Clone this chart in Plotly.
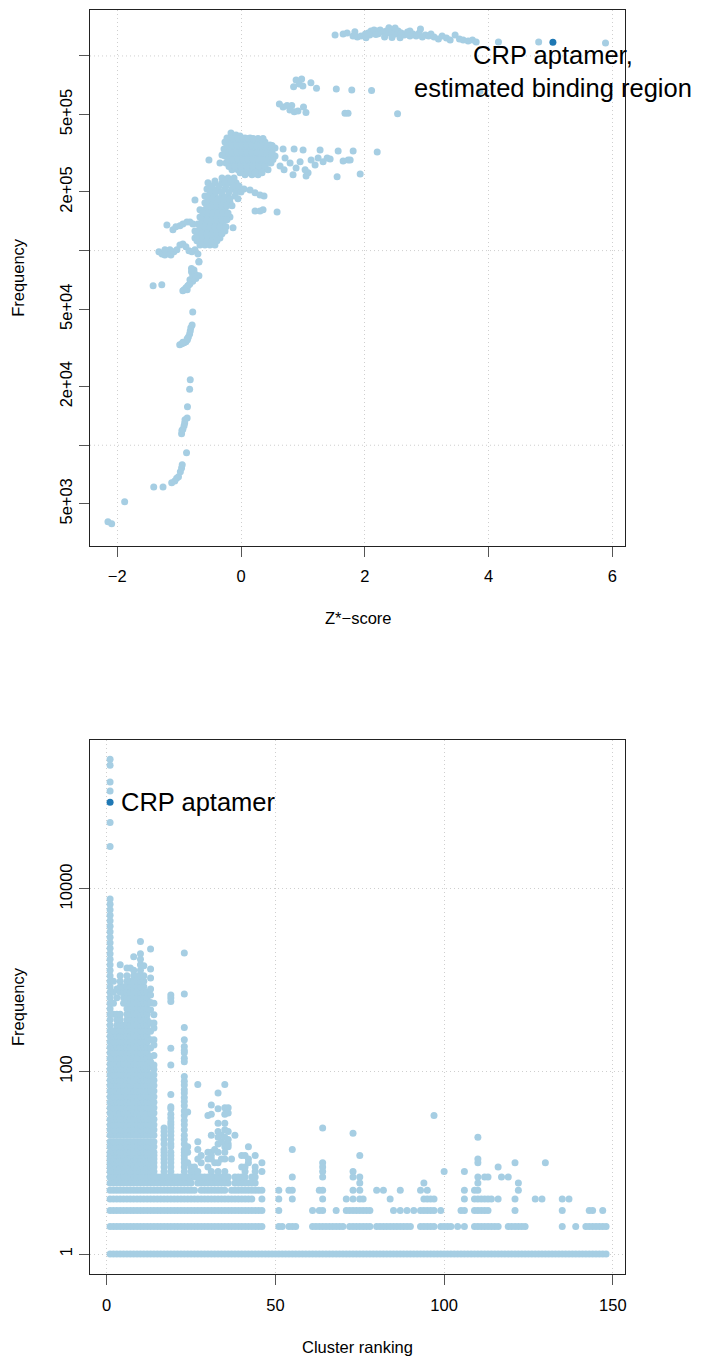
import math
import plotly.graph_objects as go

# ---------------- top panel: Z*-score vs frequency ----------------
top_z = [
    # lower tail
    -2.15, -2.09, -1.88, -1.41, -1.26, -1.12, -1.07, -1.04, -1.01, -0.98, -0.96, -0.95, -0.88,
    -0.96, -0.955, -0.94, -0.92, -0.91, -0.905, -0.87, -0.865, -0.83, -0.82,
    # ~3e4-5e4
    -0.99, -0.955, -0.92, -0.89, -0.866, -0.85, -0.83, -0.82, -0.81, -0.79, -0.78, -0.94, -0.87,
    # ~6e4-9e4
    -0.68, -0.825, -0.80, -0.78, -0.745, -0.71, -0.68, -0.73, -0.78, -0.825, -0.86, -0.89, -0.92,
    -0.94, -0.87, -0.84, -1.42, -1.28, -0.76, -0.80,
    # ~1e5 spur
    -1.327, -1.278, -1.23, -1.181, -1.133, -1.084, -1.036, -1.149, -1.23, -0.987, -0.939, -0.89,
    -0.841, -0.793, -0.744, -0.696, -0.68,
    -1.197, -1.10, -1.052, -0.987, -0.939, -0.874, -0.825, -0.777,
    # main blob 1e5-2.4e5
    -0.663, -0.583, -0.502, -0.421,
    -0.744, -0.663, -0.583, -0.502, -0.421, -0.34,
    -0.744, -0.663, -0.583, -0.502, -0.421, -0.34, -0.259,
    -0.696, -0.615, -0.534, -0.453, -0.372, -0.291,
    -0.663, -0.583, -0.502, -0.421, -0.34, -0.259, -0.178,
    -0.663, -0.583, -0.502, -0.421, -0.34, -0.259,
    -0.583, -0.502, -0.421, -0.34, -0.259, -0.178,
    -0.583, -0.502, -0.421, -0.307, -0.21, -0.097,
    -0.55, -0.469, -0.372, -0.259, -0.146, -0.049,
    -0.534, -0.421, -0.307, -0.178, -0.081,
    -0.307, -0.21, -0.113,
    -0.712, -0.631, -0.55, -0.469, -0.388,
    -0.712, -0.631, -0.55, -0.469, -0.388, -0.307,
    -0.663, -0.583, -0.502, -0.421, -0.34,
    -0.631, -0.55, -0.469, -0.388, -0.307, -0.227,
    -0.615, -0.534, -0.453, -0.372, -0.291, -0.21,
    -0.55, -0.469, -0.388, -0.307, -0.227, -0.146,
    -0.534, -0.453, -0.372, -0.275, -0.178, -0.049,
    -0.502, -0.405, -0.307, -0.194, -0.081, 0.0,
    -0.469, -0.356, -0.243, -0.129, -0.032,
    -0.421, -0.259, -0.162,
    0.049, 0.146, 0.227, 0.307, 0.372, 0.227, 0.307, 0.356, 0.583, -0.129, -0.243, -0.744,
    # upper blob 2.4e5-4e5
    -0.162, -0.081, -0.227, -0.016, 0.065, 0.146, 0.227, 0.307, 0.388, 0.469, 0.55,
    -0.259, -0.178, -0.097, -0.016, 0.065, 0.146, 0.227, 0.307,
    -0.275, -0.194, -0.113, -0.032, 0.049, 0.129, 0.21, 0.291, 0.372, 0.453,
    -0.259, -0.178, -0.097, -0.016, 0.065, 0.146, 0.227, 0.307, 0.388, 0.469, 0.55,
    -0.243, -0.162, -0.081, 0.0, 0.081, 0.162, 0.243, 0.324, 0.405, 0.485,
    -0.146, -0.049, 0.049, 0.146, 0.243, 0.34, 0.437,
    0.065, 0.178, 0.275,
    -0.21, -0.129, -0.049, 0.032, 0.113, 0.194, 0.275, 0.356,
    -0.227, -0.146, -0.065, 0.016, 0.097, 0.178, 0.259, 0.34, 0.421, 0.502,
    -0.227, -0.146, -0.065, 0.016, 0.097, 0.178, 0.259, 0.34, 0.421, 0.502,
    -0.21, -0.129, -0.049, 0.032, 0.113, 0.194, 0.275, 0.356, 0.437, 0.518,
    -0.194, -0.097, 0.0, 0.097, 0.194, 0.291, 0.388,
    -0.016, 0.113, 0.227, 0.34,
    0.68, 0.858, 1.003, 1.278, 1.57, 1.812, 2.201, 0.793, 0.955, 1.133, 1.327, 1.44, 1.731, 1.764,
    0.841, 1.084, 1.553, 1.926, 0.712, 0.631, 0.696, 0.89, 1.036, 1.197, 1.246, 1.392, 1.65,
    1.052, -0.518, -0.34, -0.307,
    # 5e5-7.5e5
    0.62, 0.68, 0.744, 0.82, 0.79, 0.86, 0.92, 1.01, 1.05, 0.85, 0.89, 0.98, 0.94, 1.0, 1.13,
    1.22, 1.54, 1.79, 2.11, 3.86, 1.68, 1.73, 2.53,
    # top band ~1.2e6-1.4e6
    1.52, 1.65, 1.715, 1.81, 1.88, 1.94, 2.01, 2.055, 2.10, 2.15, 2.20, 2.25, 2.30, 2.35, 2.39,
    2.44, 2.49, 2.54, 2.59, 2.64, 2.69, 2.73, 2.78, 2.83, 2.88, 2.93, 2.98, 3.03, 3.07, 3.12,
    3.19, 3.25, 3.32, 3.38, 3.46, 3.53, 3.59, 3.67, 3.74, 3.80, 4.16, 4.81, 5.89,
    2.08, 2.32, 2.49, 2.22, 2.44, 2.57, 2.73, 2.90, 2.39, 2.18, 2.02, 1.84,
]
top_freq = [
    4040, 3950, 5120, 6110, 6110, 6410, 6550, 6760, 6880, 7300, 7650, 7930, 9140,
    11450, 11900, 12100, 12600, 13000, 13500, 13800, 15750, 19400, 21700,
    32800, 33200, 33600, 34000, 34800, 36000, 37300, 38600, 40100, 41500, 48400, 33800, 35200,
    87900, 70800, 77800, 74300, 75900, 74300, 74300, 71800, 69500, 67500, 65900, 64400, 62900,
    62200, 62900, 66700, 65900, 66700, 79600, 81000,
    98500, 96100, 95000, 97300, 95000, 98500, 100900, 100900, 100900, 106900, 108100, 104500,
    99700, 98500, 100900, 96100, 87500,
    135500, 128000, 132400, 134000, 137100, 140300, 140300, 137100,
    106900, 106900, 106900, 106900,
    116100, 116100, 116100, 116100, 116100, 116100,
    126200, 126200, 126200, 126200, 126200, 126200, 126200,
    137100, 137100, 137100, 137100, 137100, 137100,
    149000, 149000, 149000, 149000, 149000, 149000, 149000,
    162000, 162000, 162000, 162000, 162000, 162000,
    176000, 176000, 176000, 176000, 176000, 176000,
    191000, 191000, 191000, 191000, 191000, 191000,
    207500, 207500, 207500, 207500, 207500, 207500,
    223000, 223000, 223000, 223000, 223000,
    236000, 236000, 236000,
    112200, 112200, 112200, 112200, 112200,
    121900, 121900, 121900, 121900, 121900, 121900,
    132400, 132400, 132400, 132400, 132400,
    144000, 144000, 144000, 144000, 144000, 144000,
    156000, 156000, 156000, 156000, 156000, 156000,
    170000, 170000, 170000, 170000, 170000, 170000,
    184600, 184600, 184600, 184600, 184600, 184600,
    200000, 200000, 200000, 200000, 200000, 200000,
    215000, 215000, 215000, 215000, 215000,
    228000, 228000, 228000,
    207500, 205000, 198000, 193000, 191000, 159800, 159800, 162000, 158000, 130900, 132400, 182000,
    402000, 393000, 379000, 388000, 379000, 379000, 370000, 370000, 361000, 349000, 337000,
    361000, 361000, 361000, 361000, 361000, 361000, 361000, 361000,
    333000, 333000, 333000, 333000, 333000, 333000, 333000, 333000, 333000, 333000,
    306000, 306000, 306000, 306000, 306000, 306000, 306000, 306000, 306000, 306000, 306000,
    282000, 282000, 282000, 282000, 282000, 282000, 282000, 282000, 282000, 282000,
    260000, 260000, 260000, 260000, 260000, 260000, 260000,
    245000, 245000, 245000,
    377000, 377000, 377000, 377000, 377000, 377000, 377000, 377000,
    347000, 347000, 347000, 347000, 347000, 347000, 347000, 347000, 347000, 347000,
    319000, 319000, 319000, 319000, 319000, 319000, 319000, 319000, 319000, 319000,
    294000, 294000, 294000, 294000, 294000, 294000, 294000, 294000, 294000, 294000,
    270000, 270000, 270000, 270000, 270000, 270000, 270000,
    251000, 251000, 251000, 251000,
    333000, 333000, 329000, 329000, 325000, 325000, 321000, 282000, 285700, 292000, 285700,
    295700, 292000, 292000,
    245000, 251000, 239300, 247700, 299200, 272000, 260000, 266000, 260000, 275600, 299200,
    299200, 289000,
    242000, 292000, 282000, 310000,
    566000, 546000, 557000, 557000, 528000, 516000, 522000, 546000, 512000, 695000, 753000,
    761000, 718000, 701000, 729000,
    682000, 676000, 669000, 664000, 657000, 507000, 507000, 504000,
    1282000, 1297000, 1313000, 1267000, 1252000, 1267000, 1297000, 1313000, 1344000, 1360000,
    1344000, 1360000, 1328000, 1344000, 1313000,
    1328000, 1297000, 1344000, 1313000, 1282000, 1328000, 1344000, 1297000, 1267000, 1313000,
    1252000, 1282000, 1267000, 1297000, 1252000,
    1222000, 1267000, 1237000, 1208000, 1282000, 1222000, 1208000, 1194000, 1208000, 1180000,
    1180000, 1180000, 1166000,
    1280000, 1250000, 1390000, 1300000, 1245000, 1240000, 1265000, 1375000, 1395000, 1290000,
    1240000, 1330000,
]
crp_top_z = [5.04]
crp_top_freq = [1176000]

# ---------------- bottom panel: cluster ranking vs frequency ----------------
rank_f1 = list(range(1, 149))
rank_f2 = (list(range(1, 47)) + [51, 52, 54, 55, 56] + list(range(61, 71)) + list(range(72, 79))
           + list(range(80, 91)) + [93, 94, 95, 96, 97, 99, 100, 101, 102, 104, 106]
           + list(range(109, 117)) + list(range(119, 125)) + [135, 139] + list(range(142, 149)))
rank_f3 = (list(range(1, 47)) + [51, 61, 63, 64, 68, 71] + list(range(72, 79))
           + [85, 87, 89, 91, 93, 94, 95, 96, 97, 99, 105, 106, 109, 110, 111, 112, 113, 121,
              135, 143, 144, 147])
rank_f4 = (list(range(1, 44)) + [46, 51, 55, 64, 71, 73, 75, 76, 84, 94, 95, 96, 97, 106,
                                 109, 110, 111, 112, 113, 114, 116, 121, 127, 129, 135, 137])
rank_f5 = ([r for r in range(1, 47) if r not in (27, 36)]
           + [51, 54, 55, 63, 64, 73, 75, 80, 82, 87, 93, 95, 106, 109, 110, 122])
rank_f6 = [r for r in range(1, 45) if r not in (26, 37)] + [75, 94, 110, 122]
rank_f7 = list(range(1, 37)) + [38, 39, 40, 41, 43, 44]

c01 = [7, 8, 9, 10, 11, 12, 13, 15, 17, 20, 23, 26, 30, 35, 40, 46, 53, 61, 70, 80, 92, 106, 121,
       139, 160, 184, 211, 243, 279, 320, 368, 423, 486, 558, 641, 737, 847, 973, 1118, 1285,
       1476, 1697, 1950, 2240, 2575, 2958, 3400, 3906, 4488, 5158, 5926, 6810, 7730,
       29100, 53400, 118600, 148000, 227000, 264000]
c02 = [7, 8, 9, 10, 11, 12, 13, 15, 17, 20, 23, 26, 30, 35, 40, 46, 53, 61, 70, 80, 92, 106, 121,
       139, 160, 184, 211, 243, 279, 423, 558, 737, 973]
c03 = [7, 8, 9, 10, 11, 12, 13, 15, 17, 20, 23, 26, 30, 35, 40, 46, 53, 61, 70, 80, 92, 106, 121,
       139, 160, 184, 211, 243, 279, 320, 368, 423, 641, 800]
c04 = [7, 8, 9, 10, 11, 12, 13, 15, 17, 20, 23, 26, 30, 35, 40, 46, 53, 61, 70, 80, 92, 106, 121,
       139, 160, 184, 211, 243, 279, 320, 368, 423, 737, 847, 973, 1118, 1475]
c05 = [7, 8, 9, 10, 11, 12, 13, 15, 17, 20, 23, 26, 30, 35, 40, 46, 53, 61, 70, 80, 92, 106, 121,
       139, 160, 184, 211, 243, 279, 320, 558, 641, 737, 847]
c06 = [7, 8, 9, 10, 11, 12, 13, 15, 17, 20, 23, 26, 30, 35, 40, 46, 53, 61, 70, 80, 92, 106, 121,
       139, 160, 184, 211, 243, 279, 320, 368, 423, 486, 558, 641, 737, 847, 973, 1118, 1360]
c07 = [7, 8, 9, 10, 11, 12, 13, 15, 17, 20, 23, 26, 30, 35, 40, 46, 53, 61, 70, 80, 92, 106, 121,
       139, 160, 184, 211, 243, 279, 320, 368, 423, 486, 558, 641, 737, 847, 973, 1360]
c08 = [7, 8, 9, 10, 11, 12, 13, 15, 17, 20, 23, 26, 30, 35, 40, 46, 53, 61, 70, 80, 92, 106, 121,
       139, 160, 184, 211, 243, 279, 320, 368, 423, 486, 558, 641, 737, 847, 973, 1118, 1285, 1805]
c09 = [7, 8, 9, 10, 11, 12, 13, 15, 17, 20, 23, 26, 30, 35, 40, 46, 53, 61, 70, 80, 92, 106, 121,
       139, 160, 184, 211, 243, 279, 320, 368, 423, 486, 558, 641, 737, 847, 973, 1118]
c10 = [7, 8, 9, 10, 11, 12, 13, 15, 17, 20, 23, 26, 30, 35, 40, 46, 53, 61, 70, 80, 92, 106, 121,
       139, 160, 184, 211, 243, 279, 320, 368, 423, 486, 558, 641, 737, 847, 973, 1118, 1285,
       1476, 1697, 1950, 2650]
c11 = [7, 8, 9, 10, 11, 12, 13, 15, 17, 20, 23, 26, 30, 35, 40, 46, 53, 61, 70, 80, 92, 106, 121,
       139, 160, 184, 211, 243, 279, 320, 368, 423, 486, 558, 641, 737, 847, 973, 1118, 1440]
c12 = [7, 8, 9, 10, 11, 12, 13, 15, 17, 20, 23, 26, 30, 35, 40, 46, 53, 61, 70, 80, 92, 106, 121,
       139, 160, 184, 211, 243, 279, 320, 368, 423, 486, 558, 641, 737]
c13 = [7, 8, 9, 10, 11, 12, 13, 15, 17, 20, 23, 26, 30, 35, 40, 46, 53, 61, 70, 80, 92,
       113, 128, 146, 181, 222, 275, 340, 475, 570, 690, 800, 1055, 1330, 2200]
c14 = [7, 8, 9, 10, 11, 12, 13, 15, 17, 20, 23, 26, 30, 35, 40, 46, 53, 61, 70, 80, 92, 106,
       118, 150, 195, 222, 300, 340, 418, 560]
dense_ranks = list(range(1, 15))
dense_cols = [c01, c02, c03, c04, c05, c06, c07, c08, c09, c10, c11, c12, c13, c14]

sparse_ranks = [17, 19, 23, 24, 25, 26, 27, 28, 30, 31, 32, 33, 34, 35, 36, 37, 38, 40, 41, 42,
                44, 46, 55, 64, 73, 75, 97, 100, 106, 110, 112, 113, 116, 117, 119, 121, 130]
sparse_cols = [
    [24, 22, 20, 18, 16, 14, 13, 12, 11, 10, 9, 8],
    [690, 640, 585, 180, 118, 56, 41, 39, 34, 31, 28, 26, 24, 22, 20, 18, 16, 15, 13, 12, 11, 10, 9, 8],
    [1980, 704, 303, 222, 188, 170, 160, 140, 128, 88, 78, 71, 63, 58, 52, 47, 42, 37, 33, 29,
     26, 23, 20, 18, 16, 14, 13, 12, 11, 10, 9, 8],
    [36, 15, 13, 10],
    [9, 8],
    [9, 8],
    [72, 17, 14, 11, 8],
    [12, 10],
    [33, 13, 11, 9],
    [43, 34, 20, 13, 12, 11, 8],
    [14, 10],
    [58, 39, 27, 22, 19, 16, 13, 10, 8],
    [20, 17, 11],
    [72, 40, 34, 27, 23, 19, 16, 15, 13, 11, 8],
    [40, 35, 22, 18, 16, 15],
    [11],
    [20],
    [12, 9],
    [12, 9, 8],
    [15, 11, 10],
    [12, 9, 8],
    [10, 8],
    [14, 7],
    [24, 10, 9, 8, 7],
    [21, 8, 7],
    [12, 7],
    [33],
    [8],
    [8],
    [19, 11, 10, 7],
    [7],
    [7],
    [9],
    [7],
    [7],
    [10],
    [10],
]
crp_bot_rank = [1]
crp_bot_freq = [89300]

# ---------- assemble bottom points ----------
bx, by = [], []
for ranks, f in [(rank_f1, 1), (rank_f2, 2), (rank_f3, 3), (rank_f4, 4), (rank_f5, 5),
                 (rank_f6, 6), (rank_f7, 7)]:
    bx += ranks
    by += [f] * len(ranks)
for r, col in zip(dense_ranks + sparse_ranks, dense_cols + sparse_cols):
    bx += [r] * len(col)
    by += col

LIGHT = "#a6cee3"
DARK = "#1f78b4"
FONT = "Liberation Sans, Arial, sans-serif"
MS = 7
GRID = "#cfcfcf"
GDASH = "1px,3px"

fig = go.Figure()
fig.add_trace(go.Scatter(x=top_z, y=top_freq, mode="markers", xaxis="x", yaxis="y",
                         marker=dict(color=LIGHT, size=MS, line=dict(width=0)), hoverinfo="skip"))
fig.add_trace(go.Scatter(x=crp_top_z, y=crp_top_freq, mode="markers", xaxis="x", yaxis="y",
                         marker=dict(color=DARK, size=MS, line=dict(width=0))))
fig.add_trace(go.Scatter(x=bx, y=by, mode="markers", xaxis="x2", yaxis="y2",
                         marker=dict(color=LIGHT, size=MS, line=dict(width=0)), hoverinfo="skip"))
fig.add_trace(go.Scatter(x=crp_bot_rank, y=crp_bot_freq, mode="markers", xaxis="x2", yaxis="y2",
                         marker=dict(color=DARK, size=MS, line=dict(width=0))))

axis_common = dict(showline=True, linecolor="#222", linewidth=1, mirror=True,
                   ticks="outside", ticklen=10, tickcolor="#555", tickwidth=1,
                   zeroline=False, tickfont=dict(size=16.5, color="black", family=FONT),
                   gridcolor=GRID, griddash=GDASH, gridwidth=1)

top_yticks = [5000, 10000, 20000, 50000, 100000, 200000, 500000, 1000000]
top_ytext = ["5e+03", "", "2e+04", "5e+04", "", "2e+05", "5e+05", ""]
top_grid = [10000, 100000, 1000000]

fig.update_layout(
    width=701, height=1358, autosize=False,
    margin=dict(l=90, r=76, t=10, b=84),
    paper_bgcolor="white", plot_bgcolor="white",
    showlegend=False,
    font=dict(family=FONT, color="black", size=16.5),
    xaxis=dict(axis_common, anchor="y", domain=[0, 1], range=[-2.44, 6.205],
               tickvals=[-2, 0, 2, 4, 6], showgrid=True, ticklabelstandoff=6),
    yaxis=dict(axis_common, anchor="x", domain=[0.5762, 1], type="log",
               range=[3.484, 6.236], tickvals=top_yticks, ticktext=top_ytext,
               tickangle=-90, showgrid=False),
    xaxis2=dict(axis_common, anchor="y2", domain=[0, 1], range=[-4.95, 153.6],
                tickvals=[0, 50, 100, 150], showgrid=True, ticklabelstandoff=6),
    yaxis2=dict(axis_common, anchor="x2", domain=[0, 0.4225], type="log",
                range=[-0.219, 5.632], tickvals=[1, 100, 10000], ticktext=["1", "100", "10000"],
                tickangle=-90, showgrid=True),
)

for g in top_grid:
    fig.add_shape(type="line", xref="x domain", yref="y", x0=0, x1=1, y0=g, y1=g,
                  line=dict(color=GRID, width=1, dash=GDASH), layer="below")

ann_font = dict(family=FONT, size=16.5, color="black")
fig.add_annotation(text="Z*\u2212score", xref="x domain", yref="y domain", x=0.5, y=0,
                   yshift=-72, yanchor="middle", showarrow=False, font=ann_font)
fig.add_annotation(text="Cluster ranking", xref="x2 domain", yref="y2 domain", x=0.5, y=0,
                   yshift=-73, yanchor="middle", showarrow=False, font=ann_font)
fig.add_annotation(text="Frequency", xref="x domain", yref="y domain", x=0, y=0.5,
                   xshift=-72, xanchor="center", textangle=-90, showarrow=False, font=ann_font)
fig.add_annotation(text="Frequency", xref="x2 domain", yref="y2 domain", x=0, y=0.5,
                   xshift=-72, xanchor="center", textangle=-90, showarrow=False, font=ann_font)

big_font = dict(family=FONT, size=25.5, color="black")
fig.add_annotation(text="CRP aptamer,<br>estimated binding region", xref="x", yref="y",
                   x=crp_top_z[0], y=math.log10(crp_top_freq[0]), xanchor="center",
                   yanchor="top", yshift=3, showarrow=False, font=big_font, align="center")
fig.add_annotation(text="CRP aptamer", xref="x2", yref="y2",
                   x=crp_bot_rank[0], y=math.log10(crp_bot_freq[0]), xanchor="left",
                   yanchor="middle", xshift=9, showarrow=False, font=big_font)

fig.write_html("out.html")
